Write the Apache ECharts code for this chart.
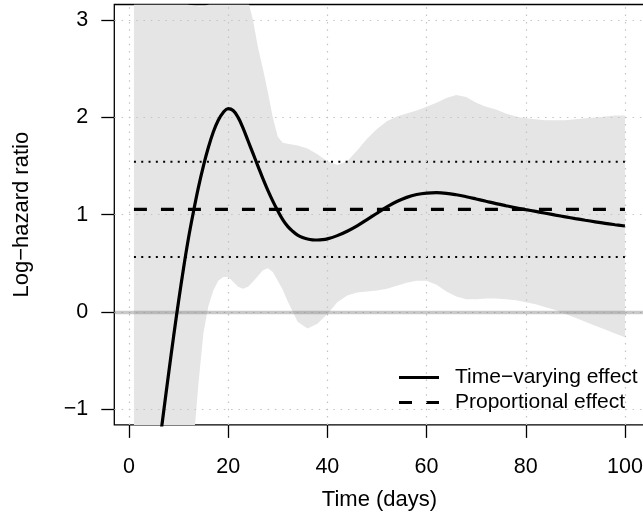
<!DOCTYPE html>
<html>
<head>
<meta charset="utf-8">
<script src="https://cdn.jsdelivr.net/npm/echarts@6/dist/echarts.min.js"></script>
<style>
html,body{margin:0;padding:0;background:#fff;}
#chart{width:643px;height:514px;}
</style>
</head>
<body>
<div id="chart"></div>
<script>
// ---- data ----
const xTicks = [0, 20, 40, 60, 80, 100];
const yTicks = [-1, 0, 1, 2, 3];

const curveDays = [1,2,3,4,5,6,7,8,9,10,11,12,13,14,15,16,17,18,19,20,21,22,23,24,25,26,27,28,29,30,31,32,33,34,35,36,37,38,39,40,42,44,46,48,50,52,54,56,58,60,62,64,66,68,70,72,74,76,78,80,82,84,86,88,90,92,94,96,98,100];
const curveValues = [-3.9,-3.35,-2.8,-2.3,-1.85,-1.42,-1.02,-0.63,-0.25,0.11,0.45,0.76,1.03,1.28,1.50,1.69,1.85,1.97,2.05,2.09,2.07,2.00,1.89,1.76,1.63,1.50,1.37,1.25,1.14,1.04,0.95,0.88,0.83,0.79,0.765,0.75,0.742,0.74,0.743,0.752,0.785,0.83,0.885,0.95,1.015,1.08,1.135,1.178,1.207,1.222,1.226,1.22,1.205,1.185,1.162,1.138,1.114,1.092,1.071,1.052,1.034,1.015,0.996,0.978,0.96,0.943,0.927,0.911,0.897,0.884];

const bandDays = [1,2,3,4,5,6,7,8,9,10,11,12,13,14,15,16,17,18,19,20,21,22,23,24,25,26,27,28,29,30,31,32,34,36,38,40,42,44,46,48,50,52,54,56,58,60,62,64,66,68,70,72,74,76,78,80,82,84,86,88,90,92,94,96,98,100];
const bandUpper = [5.2,4.8,4.4,4.1,3.85,3.65,3.5,3.38,3.29,3.23,3.19,3.16,3.15,3.14,3.14,3.16,3.2,3.26,3.3,3.32,3.32,3.3,3.26,3.2,3.0,2.72,2.5,2.26,2.0,1.8,1.74,1.73,1.71,1.68,1.62,1.55,1.51,1.55,1.66,1.78,1.88,1.96,2.01,2.04,2.07,2.11,2.15,2.2,2.23,2.21,2.15,2.11,2.08,2.04,2.01,1.99,1.98,1.97,1.97,1.97,1.98,1.99,2.0,2.01,2.02,2.02];
const bandLower = [-9,-8,-7,-6,-5.2,-4.5,-3.8,-3.2,-2.6,-2.1,-1.7,-1.4,-1.35,-0.74,-0.22,0.06,0.22,0.32,0.36,0.36,0.31,0.26,0.24,0.26,0.31,0.37,0.43,0.45,0.41,0.32,0.23,0.11,-0.10,-0.17,-0.12,-0.02,0.10,0.17,0.20,0.21,0.22,0.24,0.27,0.30,0.32,0.32,0.28,0.21,0.16,0.13,0.13,0.14,0.14,0.13,0.12,0.10,0.08,0.05,0.02,-0.02,-0.06,-0.10,-0.14,-0.18,-0.22,-0.26];

const propDays = [1, 100];
const propEffect = 1.055;
const propLower = 0.565;
const propUpper = 1.545;

// ---- chart ----
const FONT = "'Liberation Sans', Arial, Helvetica, sans-serif";
const chart = echarts.init(document.getElementById('chart'), null, {renderer: 'canvas'});

const option = {
  animation: false,
  backgroundColor: '#ffffff',
  grid: {
    left: 114.3, top: 4.5, width: 530.3, height: 420.4,
    show: true, borderColor: '#000', borderWidth: 1.3,
    backgroundColor: 'transparent',
    outerBoundsMode: 'none'
  },
  xAxis: {
    type: 'value', min: -2.96, max: 103.96,
    axisLine: {show: false, onZero: false},
    splitLine: {show: false},
    axisTick: {show: true, customValues: xTicks, length: 13, lineStyle: {color: '#000', width: 1.3}},
    axisLabel: {customValues: xTicks, fontSize: 21.5, color: '#000', fontFamily: FONT, margin: 31},
    name: 'Time (days)', nameLocation: 'middle', nameGap: 64,
    nameTextStyle: {fontSize: 22, color: '#000', fontFamily: FONT}
  },
  yAxis: {
    type: 'value', min: -1.16, max: 3.16,
    axisLine: {show: false, onZero: false},
    splitLine: {show: false},
    axisTick: {show: true, customValues: yTicks, length: 13, lineStyle: {color: '#000', width: 1.3}},
    axisLabel: {customValues: yTicks, fontSize: 21.5, color: '#000', fontFamily: FONT, margin: 26,
      formatter: v => String(v).replace('-', '\u2212')},
    name: 'Log\u2212hazard ratio', nameLocation: 'middle', nameGap: 81,
    nameTextStyle: {fontSize: 22, color: '#000', fontFamily: FONT}
  },
  legend: {
    data: [
      {name: 'Time\u2212varying effect', icon: 'path://M0,0H40V3H0Z'},
      {name: 'Proportional effect', icon: 'path://M0,0H13V3H0Z M27,0H40V3H27Z'}
    ],
    orient: 'vertical', left: 399, top: 365, padding: 0,
    itemWidth: 40, itemHeight: 3.2, itemGap: 0,
    itemStyle: {color: '#000', borderWidth: 0},
    textStyle: {fontSize: 21, color: '#000', fontFamily: FONT, lineHeight: 25, padding: [0, 0, 0, 11]}
  },
  series: [
    {
      type: 'custom', name: 'band', clip: true, silent: true, z: 1,
      data: [[bandDays[0], bandLower[0]]],
      renderItem: function (params, api) {
        const pts = [];
        for (let i = 0; i < bandDays.length; i++) pts.push(api.coord([bandDays[i], bandUpper[i]]));
        for (let i = bandDays.length - 1; i >= 0; i--) pts.push(api.coord([bandDays[i], bandLower[i]]));
        const cs = params.coordSys;
        return {
          type: 'polygon',
          shape: {points: pts, smooth: 0},
          style: {fill: '#e5e5e5', stroke: null},
          clipPath: {type: 'rect', shape: {x: cs.x, y: cs.y, width: cs.width, height: cs.height}}
        };
      }
    },
    {
      type: 'line', name: 'grid', data: [], z: 2, silent: true,
      markLine: {
        silent: true, symbol: 'none', label: {show: false}, animation: false,
        lineStyle: {color: '#c4c4c4', type: [1.5, 5.8], width: 1.2},
        emphasis: {disabled: true},
        data: xTicks.map(v => ({xAxis: v})).concat(yTicks.map(v => ({yAxis: v})))
      }
    },
    {
      type: 'line', name: 'zero', data: [], z: 3, silent: true,
      markLine: {
        silent: true, symbol: 'none', label: {show: false}, animation: false,
        lineStyle: {color: 'rgba(120,120,120,0.4)', type: 'solid', width: 3.3},
        emphasis: {disabled: true},
        data: [{yAxis: 0}]
      }
    },
    {
      type: 'line', name: 'ciUpper', z: 4, silent: true, symbol: 'none',
      data: propDays.map(d => [d, propUpper]),
      lineStyle: {color: '#000', width: 2, type: [2, 5.3]}
    },
    {
      type: 'line', name: 'ciLower', z: 4, silent: true, symbol: 'none',
      data: propDays.map(d => [d, propLower]),
      lineStyle: {color: '#000', width: 2, type: [2, 5.3]}
    },
    {
      type: 'line', name: 'Proportional effect', z: 5, silent: true, symbol: 'none',
      data: propDays.map(d => [d, propEffect]),
      lineStyle: {color: '#000', width: 3.3, type: [13, 14], cap: 'butt'},
      itemStyle: {color: '#000'}
    },
    {
      type: 'line', name: 'Time\u2212varying effect', z: 6, silent: true, symbol: 'none',
      smooth: 0.4, clip: true,
      data: curveDays.map((d, i) => [d, curveValues[i]]),
      lineStyle: {color: '#000', width: 3.2},
      itemStyle: {color: '#000'}
    }
  ]
};
chart.setOption(option);
</script>
</body>
</html>
